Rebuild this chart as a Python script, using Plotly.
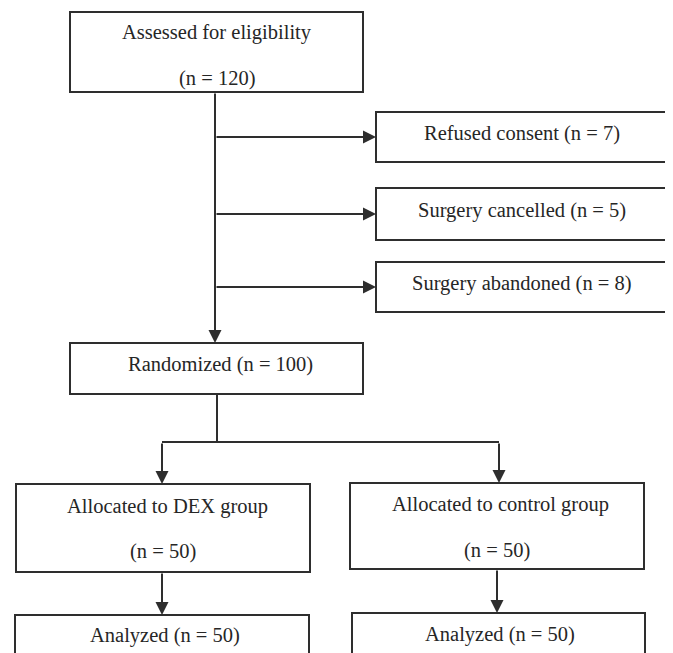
import plotly.graph_objects as go

# ---- data (flow stages and counts) ----
stage_labels = ["Assessed for eligibility", "Refused consent", "Surgery cancelled",
                "Surgery abandoned", "Randomized", "Allocated to DEX group",
                "Allocated to control group", "Analyzed", "Analyzed"]
stage_counts = [120, 7, 5, 8, 100, 50, 50, 50, 50]
two_line = [True, False, False, False, False, True, True, False, False]

# ---- layout geometry (pixel space, y downward) ----
boxes = [
    (70, 363, 12, 92),      # assessed
    (376, 667, 112, 162),   # refused
    (376, 667, 188, 240),   # cancelled
    (376, 667, 262, 312),   # abandoned
    (70, 363, 343, 394),    # randomized
    (16, 310, 484, 572),    # DEX
    (350, 644, 483, 569),   # control
    (15, 309, 615, 680),    # analyzed DEX
    (352, 645, 613, 680),   # analyzed control
]
text_y = [(32, 78), 133, 210, 283, 364, (506, 551), (504, 550), 635, 634]
text_dx = [0, 0, 0, 0, 4, 4, 3, 3, 1]

LINE = "#2e2e2e"
TXT = "#262626"
FONT = "Liberation Serif"
FS = 20.5
OFF = 8  # page body margin compensation

fig = go.Figure()
shapes = []
annotations = []

for i, (x0, x1, y0, y1) in enumerate(boxes):
    shapes.append(dict(type="rect", xref="x", yref="y", x0=x0, x1=x1, y0=y0, y1=y1,
                       line=dict(color=LINE, width=2), fillcolor="white", layer="below"))
    cx = (x0 + x1) / 2 + text_dx[i]
    if two_line[i]:
        ya, yb = text_y[i]
        annotations.append(dict(x=cx, y=ya, text=stage_labels[i], showarrow=False,
                                xref="x", yref="y", font=dict(family=FONT, size=FS, color=TXT)))
        annotations.append(dict(x=(x0 + x1) / 2, y=yb, text=f"(n = {stage_counts[i]})", showarrow=False,
                                xref="x", yref="y", font=dict(family=FONT, size=FS, color=TXT)))
    else:
        annotations.append(dict(x=cx, y=text_y[i], text=f"{stage_labels[i]} (n = {stage_counts[i]})",
                                showarrow=False, xref="x", yref="y",
                                font=dict(family=FONT, size=FS, color=TXT)))

def line(xa, ya, xb, yb):
    shapes.append(dict(type="line", xref="x", yref="y", x0=xa, y0=ya, x1=xb, y1=yb,
                       line=dict(color=LINE, width=2)))

def arrow(xa, ya, xb, yb):
    annotations.append(dict(x=xb, y=yb, ax=xa, ay=ya, xref="x", yref="y", axref="x", ayref="y",
                            text="", showarrow=True, arrowhead=2, arrowsize=1.3, arrowwidth=2,
                            arrowcolor=LINE, standoff=0))

trunk_x = 215
arrow(trunk_x, boxes[0][3], trunk_x, boxes[4][2])
for i in (1, 2, 3):
    ymid = (boxes[i][2] + boxes[i][3]) / 2
    arrow(trunk_x, ymid, boxes[i][0], ymid)

split_y = 442
left_x, right_x = 162, 499
line(217, boxes[4][3], 217, split_y)
line(left_x, split_y, right_x, split_y)
arrow(left_x, split_y, left_x, boxes[5][2])
arrow(right_x, split_y, right_x, boxes[6][2])
arrow(left_x, boxes[5][3], left_x, boxes[7][2])
arrow(497, boxes[6][3], 497, boxes[8][2])

fig.update_layout(
    width=673, height=653,
    margin=dict(l=0, r=0, t=0, b=0),
    paper_bgcolor="white", plot_bgcolor="white",
    xaxis=dict(range=[OFF, 673 + OFF], visible=False, fixedrange=True),
    yaxis=dict(range=[653 + OFF, OFF], visible=False, fixedrange=True),
    shapes=shapes, annotations=annotations, showlegend=False,
)
fig.write_html("out.html")
